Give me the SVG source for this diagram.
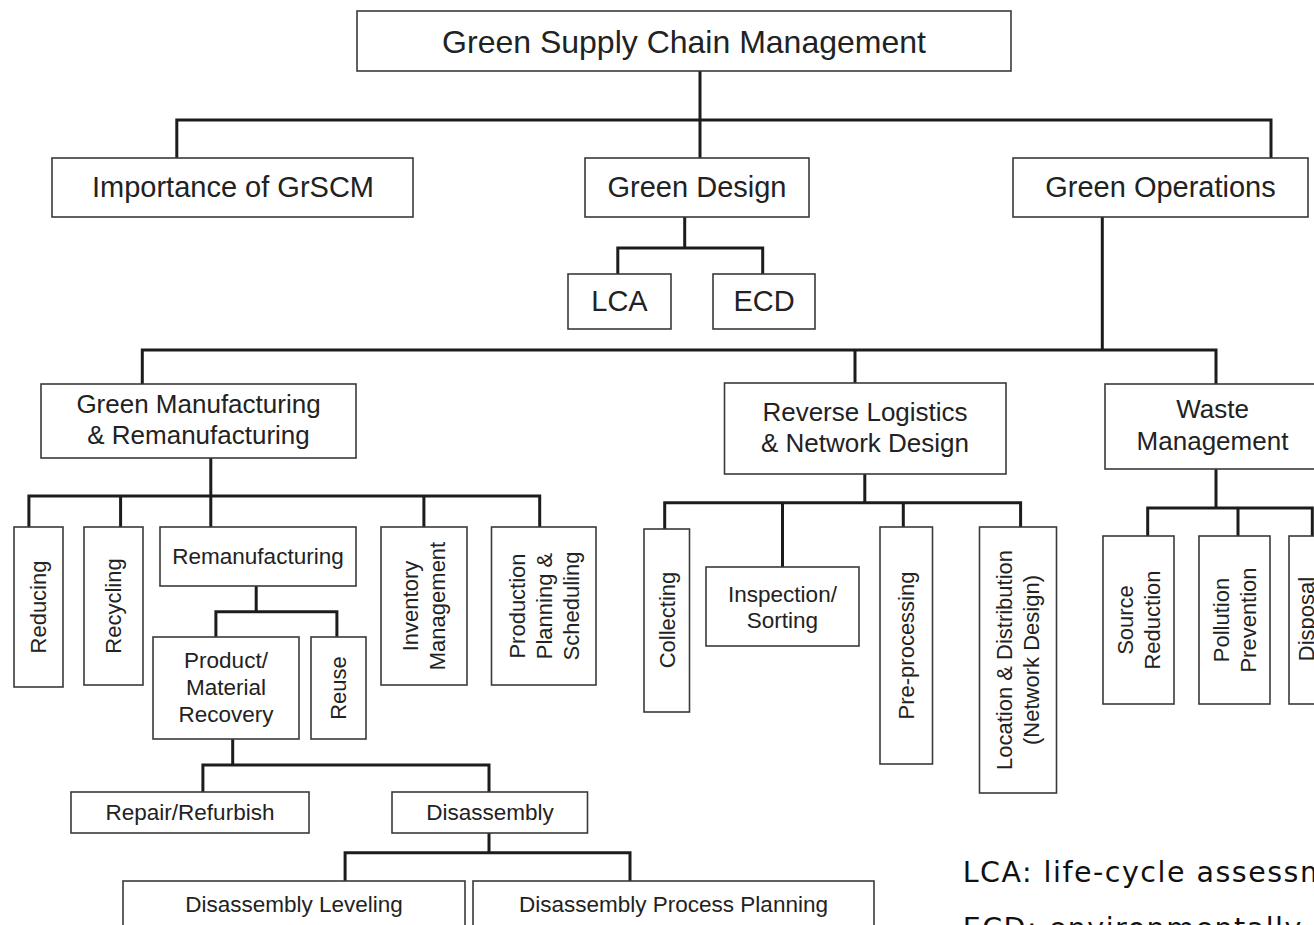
<svg xmlns="http://www.w3.org/2000/svg" width="1314" height="925" viewBox="0 0 1314 925">
<style>
.b{fill:#fff;stroke:#3a3a3a;stroke-width:1.6}
.t{font-family:"Liberation Sans",Arial,sans-serif;fill:#222;text-anchor:middle}
.s32{font-size:32px}.s29{font-size:29px}.s26{font-size:26px}.s22{font-size:22.5px}.v{font-size:22px}
.c{fill:none;stroke:#1c1c1c;stroke-width:3}
.n{font-family:"DejaVu Sans",Verdana,sans-serif;font-size:28.5px;fill:#111;letter-spacing:1.5px}
</style>
<rect width="1314" height="925" fill="#fff"/>
<g id="connectors" class="c">
<path d="M700 70.7V158M176.8 158V120H1271V158"/>
<path d="M684.7 217V248M617.8 274V248H762.7V274"/>
<path d="M1102.3 217V350M142.3 384V350H1216V384M855 350V383"/>
<path d="M210.8 458V496M28.9 527V496H539.7V527M120.6 496V527M210.8 496V527M423.9 496V527"/>
<path d="M256.2 586V611.7M215.9 637V611.7H336.9V637"/>
<path d="M232.7 739V765M202.9 792V765H489V792"/>
<path d="M489 833V852.7M345.1 881V852.7H630V881"/>
<path d="M864.8 474V502.7M664.7 529V502.7H1020.6V527M782.5 502.7V567M903.3 502.7V527"/>
<path d="M1216 469V508M1147.7 536V508H1312.3V536M1238 508V536"/>
</g>
<g id="root"><rect class="b" x="357" y="11" width="654" height="60"/><text class="t s32" x="684" y="53">Green Supply Chain Management</text></g>
<g id="importance"><rect class="b" x="52" y="158" width="361" height="59"/><text class="t s29" x="233" y="197">Importance of GrSCM</text></g>
<g id="green-design"><rect class="b" x="585" y="158" width="224" height="59"/><text class="t s29" x="697" y="197">Green Design</text></g>
<g id="green-operations"><rect class="b" x="1013" y="158" width="295" height="59"/><text class="t s29" x="1160.5" y="197">Green Operations</text></g>
<g id="lca"><rect class="b" x="568" y="274" width="103" height="55"/><text class="t s29" x="619.5" y="311">LCA</text></g>
<g id="ecd"><rect class="b" x="713" y="274" width="102" height="55"/><text class="t s29" x="764" y="311">ECD</text></g>
<g id="green-manufacturing"><rect class="b" x="41" y="384" width="315" height="74"/><text class="t s26"><tspan x="198.5" y="413">Green Manufacturing</tspan><tspan x="198.5" y="443.5">&amp; Remanufacturing</tspan></text></g>
<g id="reverse-logistics"><rect class="b" x="724.5" y="383" width="281.5" height="91"/><text class="t s26"><tspan x="865" y="421">Reverse Logistics</tspan><tspan x="865" y="451.5">&amp; Network Design</tspan></text></g>
<g id="waste-management"><rect class="b" x="1105" y="384" width="215" height="85"/><text class="t s26"><tspan x="1212.5" y="418">Waste</tspan><tspan x="1212.5" y="450">Management</tspan></text></g>
<g id="reducing"><rect class="b" x="14" y="527" width="49" height="160"/><text class="t v" transform="translate(38.5 607) rotate(-90)" y="7.9">Reducing</text></g>
<g id="recycling"><rect class="b" x="84" y="527" width="59" height="158"/><text class="t v" transform="translate(113.5 606) rotate(-90)" y="7.9">Recycling</text></g>
<g id="remanufacturing"><rect class="b" x="160" y="527" width="196" height="59"/><text class="t s22" x="258" y="564">Remanufacturing</text></g>
<g id="inventory"><rect class="b" x="381" y="527" width="86" height="158"/><text class="t v" transform="translate(424 606) rotate(-90)"><tspan x="0" y="-5.6">Inventory</tspan><tspan x="0" y="21.4">Management</tspan></text></g>
<g id="production"><rect class="b" x="491.5" y="527" width="104.5" height="158"/><text class="t v" transform="translate(543.7 606) rotate(-90)"><tspan x="0" y="-19.1">Production</tspan><tspan x="0" y="7.9">Planning &amp;</tspan><tspan x="0" y="34.9">Scheduling</tspan></text></g>
<g id="product-recovery"><rect class="b" x="153" y="637" width="146" height="102"/><text class="t s22"><tspan x="226" y="668">Product/</tspan><tspan x="226" y="695">Material</tspan><tspan x="226" y="722">Recovery</tspan></text></g>
<g id="reuse"><rect class="b" x="311" y="637" width="55" height="102"/><text class="t v" transform="translate(338.5 688) rotate(-90)" y="7.9">Reuse</text></g>
<g id="repair"><rect class="b" x="71" y="792" width="238" height="41"/><text class="t s22" x="190" y="820">Repair/Refurbish</text></g>
<g id="disassembly"><rect class="b" x="392" y="792" width="195.5" height="41"/><text class="t s22" x="490" y="820">Disassembly</text></g>
<g id="disassembly-leveling"><rect class="b" x="123" y="881" width="342" height="60"/><text class="t s22" x="294" y="912">Disassembly Leveling</text></g>
<g id="disassembly-process-planning"><rect class="b" x="473" y="881" width="401" height="60"/><text class="t s22" x="673.5" y="912">Disassembly Process Planning</text></g>
<g id="collecting"><rect class="b" x="644" y="529" width="45.5" height="183"/><text class="t v" transform="translate(667 620) rotate(-90)" y="7.9">Collecting</text></g>
<g id="inspection"><rect class="b" x="706" y="567" width="153" height="79"/><text class="t s22"><tspan x="782.5" y="602">Inspection/</tspan><tspan x="782.5" y="628">Sorting</tspan></text></g>
<g id="pre-processing"><rect class="b" x="880" y="527" width="52.5" height="237"/><text class="t v" transform="translate(906.4 645.5) rotate(-90)" y="7.9">Pre-processing</text></g>
<g id="location"><rect class="b" x="979.5" y="527" width="77" height="266"/><text class="t v" transform="translate(1018 660) rotate(-90)"><tspan x="0" y="-5.6">Location &amp; Distribution</tspan><tspan x="0" y="21.4">(Network Design)</tspan></text></g>
<g id="source-reduction"><rect class="b" x="1103" y="536" width="71" height="168"/><text class="t v" transform="translate(1138.5 620) rotate(-90)"><tspan x="0" y="-5.6">Source</tspan><tspan x="0" y="21.4">Reduction</tspan></text></g>
<g id="pollution-prevention"><rect class="b" x="1199" y="536" width="71" height="168"/><text class="t v" transform="translate(1234.5 620) rotate(-90)"><tspan x="0" y="-5.6">Pollution</tspan><tspan x="0" y="21.4">Prevention</tspan></text></g>
<g id="disposal"><rect class="b" x="1289" y="536" width="71" height="168"/><text class="t v" transform="translate(1306 619) rotate(-90)" y="7.9">Disposal</text></g>
<g id="legend">
<text class="n" x="962.7" y="882">LCA: life-cycle assessment</text>
<text class="n" x="962.7" y="938">ECD: environmentally conscious design</text>
</g>
</svg>
